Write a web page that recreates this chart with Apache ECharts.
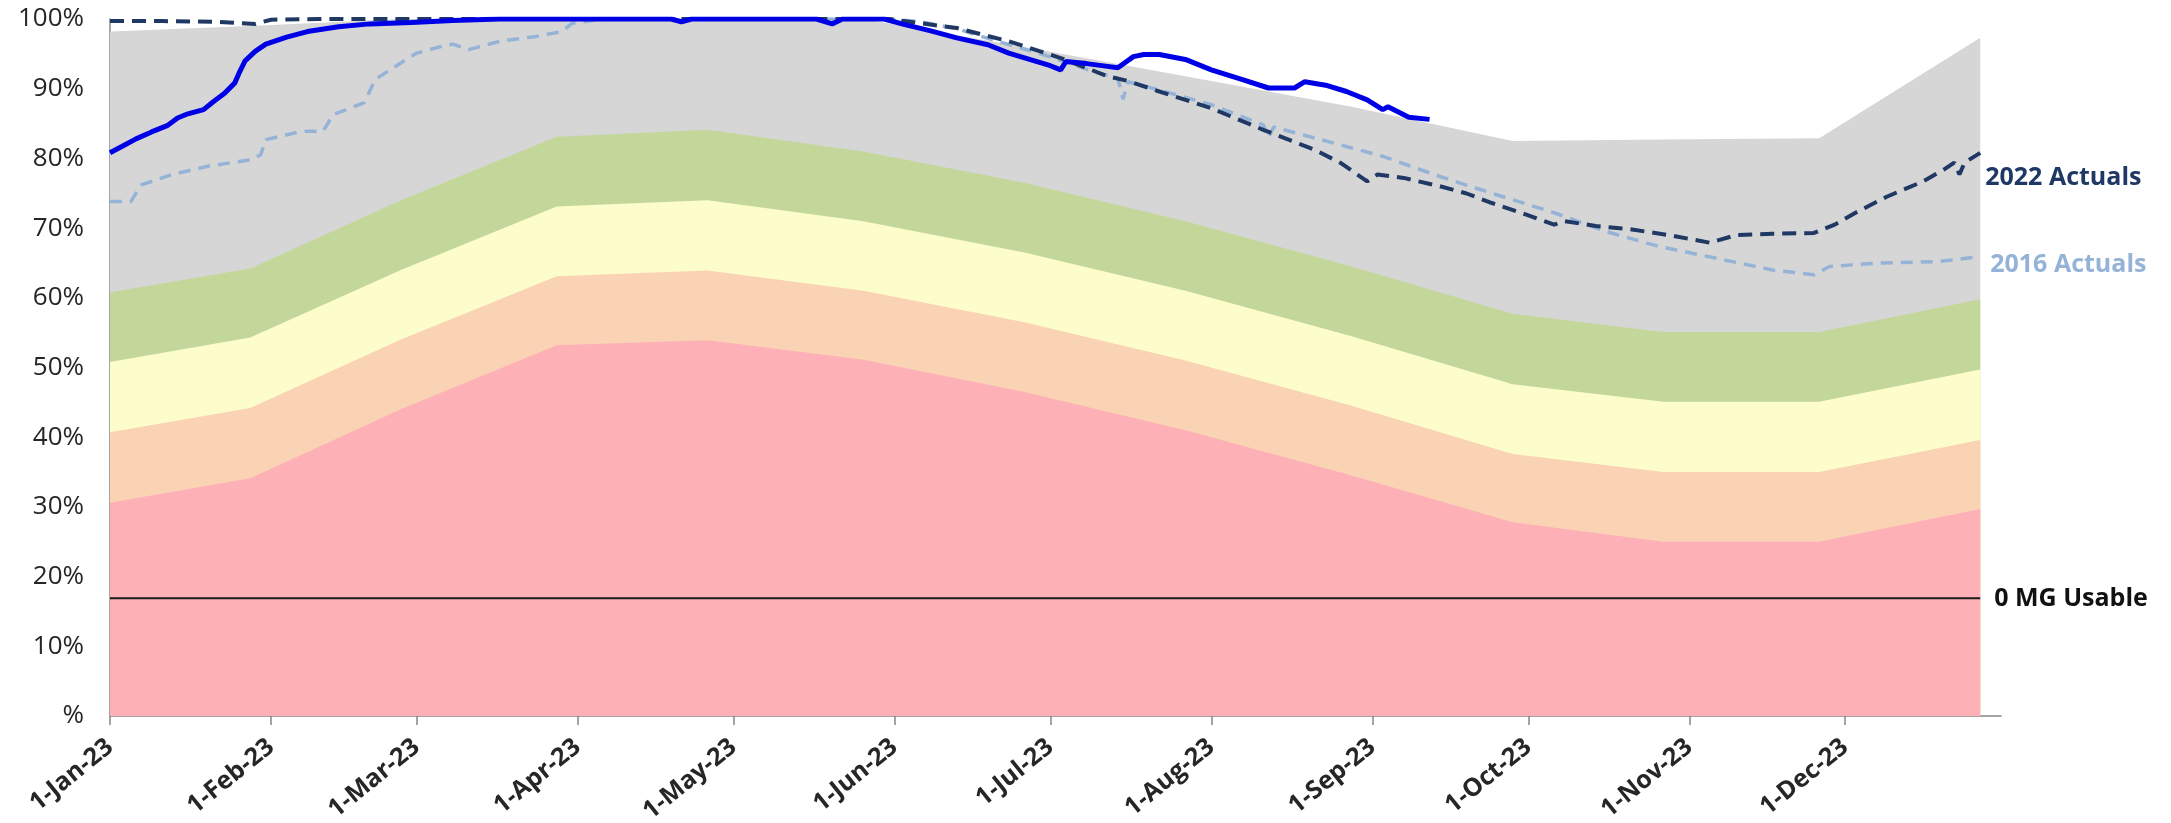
<!DOCTYPE html>
<html><head><meta charset="utf-8">
<script src="https://cdn.jsdelivr.net/npm/echarts@6/dist/echarts.min.js"></script>
<style>html,body{margin:0;padding:0;background:#fff}#c{width:2171px;height:823px}</style>
</head><body><div id="c"></div>
<script>
// ---- Tick labels ----
const tickDates = ['2023-01-01','2023-02-01','2023-03-01','2023-04-01','2023-05-01','2023-06-01','2023-07-01','2023-08-01','2023-09-01','2023-10-01','2023-11-01','2023-12-01'];
const tickLabels = ['1-Jan-23','1-Feb-23','1-Mar-23','1-Apr-23','1-May-23','1-Jun-23','1-Jul-23','1-Aug-23','1-Sep-23','1-Oct-23','1-Nov-23','1-Dec-23'];

// ---- Bands (top of each band, %) ----
const bandDates = ['2023-01-01','2023-01-28','2023-02-26','2023-03-28','2023-04-26','2023-05-26','2023-06-26','2023-07-27','2023-08-28','2023-09-28','2023-10-27','2023-11-26','2023-12-27'];
const redTop    = [30.6, 34.1, 44.0, 53.2, 53.9, 51.1, 46.5, 41.0, 34.5, 27.8, 25.0, 25.0, 29.7];
const orangeTop = [40.7, 44.2, 54.0, 63.1, 63.9, 61.0, 56.5, 51.0, 44.5, 37.6, 35.0, 35.0, 39.6];
const yellowTop = [50.8, 54.3, 64.0, 73.1, 74.0, 71.0, 66.5, 61.0, 54.5, 47.6, 45.1, 45.1, 49.7];
const greenTop  = [60.8, 64.2, 74.0, 83.1, 84.1, 81.0, 76.5, 71.0, 64.5, 57.7, 55.1, 55.1, 59.8];
const grayTop   = [98.2, 99.0, 100, 100, 100, 100, 96.0, 91.8, 87.4, 82.5, 82.7, 82.9, 97.3];

// ---- 0 MG usable level ----
const zeroMgDates = ['2023-01-01','2023-12-27'];
const zeroMgVals  = [16.9, 16.9];

// ---- 2023 actuals ----
const a2023Dates = ['2023-01-01','2023-01-04','2023-01-06','2023-01-09','2023-01-12','2023-01-14','2023-01-16','2023-01-19','2023-01-21','2023-01-23','2023-01-25','2023-01-26','2023-01-27','2023-01-29','2023-01-31','2023-02-04','2023-02-08','2023-02-14','2023-02-20','2023-02-28','2023-03-08','2023-03-17','2023-04-19','2023-04-21','2023-04-23','2023-05-17','2023-05-20','2023-05-22','2023-05-30','2023-06-03','2023-06-08','2023-06-13','2023-06-19','2023-06-23','2023-06-27','2023-07-01','2023-07-03','2023-07-04','2023-07-08','2023-07-12','2023-07-14','2023-07-17','2023-07-19','2023-07-22','2023-07-27','2023-08-01','2023-08-07','2023-08-12','2023-08-17','2023-08-19','2023-08-23','2023-08-27','2023-08-31','2023-09-03','2023-09-04','2023-09-08','2023-09-12'];
const a2023Vals  = [80.8, 82.0, 82.8, 83.8, 84.7, 85.8, 86.4, 87.0, 88.2, 89.3, 90.8, 92.5, 94.0, 95.4, 96.4, 97.4, 98.2, 98.9, 99.3, 99.5, 99.8, 100, 100, 99.6, 100, 100, 99.3, 100, 100, 99.2, 98.3, 97.3, 96.3, 95.1, 94.2, 93.3, 92.7, 93.9, 93.6, 93.2, 93.0, 94.6, 94.9, 94.9, 94.2, 92.7, 91.3, 90.1, 90.1, 91.0, 90.5, 89.6, 88.4, 87.0, 87.4, 85.9, 85.6];

// ---- 2022 actuals ----
const a2022Dates = ['2023-01-01','2023-01-11','2023-01-21','2023-01-26','2023-01-29','2023-02-01','2023-02-10','2023-05-31','2023-06-05','2023-06-13','2023-06-23','2023-07-03','2023-07-12','2023-07-16','2023-07-22','2023-08-01','2023-08-11','2023-08-21','2023-08-26','2023-08-31','2023-09-02','2023-09-07','2023-09-14','2023-09-19','2023-09-24','2023-09-30','2023-10-06','2023-10-08','2023-10-14','2023-10-21','2023-10-28','2023-11-05','2023-11-10','2023-11-17','2023-11-25','2023-11-29','2023-12-03','2023-12-09','2023-12-16','2023-12-20','2023-12-22','2023-12-23','2023-12-24','2023-12-27'];
const a2022Vals  = [99.7, 99.7, 99.6, 99.4, 99.3, 99.9, 100, 100, 99.5, 98.7, 96.8, 94.4, 91.8, 91.1, 89.6, 87.2, 84.1, 81.2, 79.3, 76.7, 77.7, 77.2, 76.0, 75.0, 73.6, 72.1, 70.5, 71.0, 70.3, 69.8, 69.0, 67.9, 69.0, 69.2, 69.3, 70.5, 72.2, 74.5, 76.7, 78.4, 79.4, 77.7, 79.4, 80.8];

// ---- 2016 actuals ----
const a2016Dates = ['2023-01-01','2023-01-05','2023-01-07','2023-01-13','2023-01-20','2023-01-28','2023-01-30','2023-01-31','2023-02-07','2023-02-11','2023-02-13','2023-02-19','2023-02-21','2023-02-26','2023-03-01','2023-03-06','2023-03-08','2023-03-11','2023-03-17','2023-03-24','2023-03-29','2023-03-31','2023-04-05','2023-04-11','2023-05-31','2023-06-06','2023-06-13','2023-06-20','2023-06-30','2023-07-10','2023-07-14','2023-07-15','2023-07-16','2023-07-22','2023-08-01','2023-08-11','2023-08-12','2023-08-13','2023-08-21','2023-08-29','2023-09-03','2023-09-14','2023-09-24','2023-10-06','2023-10-16','2023-10-26','2023-11-06','2023-11-17','2023-11-25','2023-11-28','2023-12-08','2023-12-19','2023-12-27'];
const a2016Vals  = [73.8, 73.8, 76.2, 77.7, 78.9, 79.8, 80.5, 82.7, 83.9, 83.9, 86.3, 88.0, 91.3, 93.7, 95.1, 96.1, 96.4, 95.6, 96.8, 97.5, 98.2, 99.4, 99.9, 100, 100, 99.6, 98.6, 97.0, 94.8, 92.3, 91.5, 88.5, 91.0, 89.8, 87.7, 84.8, 83.0, 84.5, 82.9, 81.3, 80.3, 77.4, 75.0, 72.2, 69.5, 67.4, 65.7, 64.0, 63.3, 64.5, 65.0, 65.2, 65.9];

// day-of-year position (0 = 1 Jan 2023)
const ORIGIN = Date.UTC(2023, 0, 1);
function day(s){ const p = s.split('-').map(Number); return Math.round((Date.UTC(p[0], p[1]-1, p[2]) - ORIGIN) / 86400000); }
function pairs(dates, vals){ return dates.map((d,i)=>[day(d), vals[i]]); }
const tickDays = tickDates.map(day);

const FONT = 'Open Sans';
function band(name, vals, color){
  return { name, type:'line', data: pairs(bandDates, vals), symbol:'none', silent:true,
    lineStyle:{width:0, color}, areaStyle:{color, opacity:1} };
}

const option = {
  animation:false,
  backgroundColor:'#ffffff',
  grid:{left:110, right:170, top:19, bottom:107, containLabel:false, outerBoundsMode:'none'},
  xAxis:{
    type:'value', min: 0, max: day('2023-12-31'),
    axisLine:{show:true, onZero:false, lineStyle:{color:'#868686', width:1.5}},
    axisTick:{show:true, customValues: tickDays, length:9, lineStyle:{color:'#868686', width:1.5}},
    splitLine:{show:false},
    axisLabel:{customValues: tickDays, rotate:39, margin:28, fontSize:25, fontWeight:'bold',
      fontFamily:FONT, color:'#262626',
      formatter:(v)=>{ const i = tickDays.indexOf(Math.round(v)); return i >= 0 ? tickLabels[i] : ''; }}
  },
  yAxis:{
    type:'value', min:0, max:100, interval:10,
    axisLine:{show:true, lineStyle:{color:'#868686', width:1.5}},
    axisTick:{show:false}, splitLine:{show:false},
    axisLabel:{formatter:(v)=> v===0 ? '%' : v+'%', fontSize:26, fontFamily:FONT, color:'#262626', margin:26}
  },
  series:[
    band('Gray', grayTop, '#D6D6D6'),
    band('Green', greenTop, '#C4D79B'),
    band('Yellow', yellowTop, '#FDFDCB'),
    band('Orange', orangeTop, '#FAD2B4'),
    band('Red', redTop, '#FDB0B6'),
    { name:'0 MG Usable', type:'line', data: pairs(zeroMgDates, zeroMgVals), symbol:'none',
      lineStyle:{color:'#1a1a1a', width:2},
      endLabel:{show:true, formatter:'0 MG Usable', distance:14, offset:[0,1], fontSize:25, fontWeight:'bold', fontFamily:FONT, color:'#111'} },
    { name:'2016 Actuals', type:'line', data: pairs(a2016Dates, a2016Vals), symbol:'none',
      lineStyle:{color:'#95B3D7', width:3.5, type:[12,8]},
      endLabel:{show:true, formatter:'2016 Actuals', distance:10, offset:[0,8], fontSize:25, fontWeight:'bold', fontFamily:FONT, color:'#95B3D7'} },
    { name:'2022 Actuals', type:'line', data: pairs(a2022Dates, a2022Vals), symbol:'none',
      lineStyle:{color:'#1F3864', width:4, type:[14,8]},
      endLabel:{show:true, formatter:'2022 Actuals', distance:5, offset:[0,25], fontSize:25, fontWeight:'bold', fontFamily:FONT, color:'#1F3864'} },
    { name:'2023 Actuals', type:'line', data: pairs(a2023Dates, a2023Vals), symbol:'none',
      lineStyle:{color:'#0000E6', width:5} }
  ]
};
const chart = echarts.init(document.getElementById('c'));
chart.setOption(option);
</script>
</body></html>
